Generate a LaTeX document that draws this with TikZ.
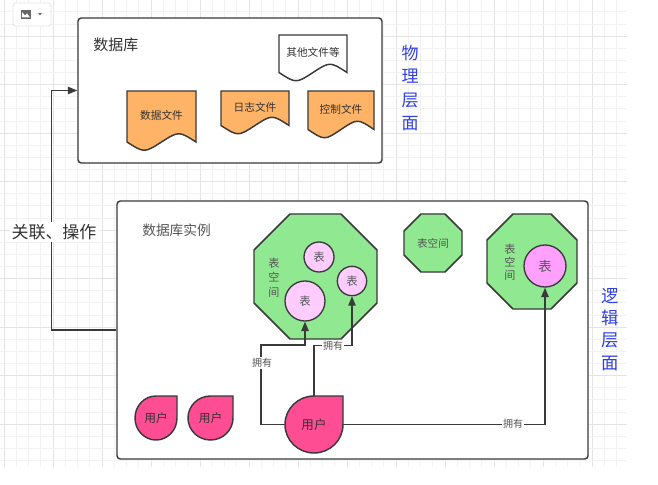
\documentclass[tikz,border=0pt]{standalone}
\usepackage{fontspec}
\setmainfont{Noto Sans CJK SC}
\usetikzlibrary{arrows.meta,calc}
\definecolor{gmin}{HTML}{F2F2F2}
\definecolor{gmaj}{HTML}{E4E4E4}
\definecolor{edge}{HTML}{3A3A3A}
\definecolor{txt}{HTML}{333333}
\definecolor{txtl}{HTML}{555555}
\definecolor{docorange}{HTML}{FFB366}
\definecolor{octgreen}{HTML}{90E890}
\definecolor{pinkl}{HTML}{FFCCFF}
\definecolor{pinkm}{HTML}{FFA0FF}
\definecolor{userpink}{HTML}{FF4D94}
\definecolor{layerblue}{HTML}{2F3FE0}
\newcommand\docshape[7]{%
  \filldraw[shapeline, fill=#7] (#2,#3) -- (#4,#3) -- (#4,#5)
    .. controls ({0.25*#2+0.75*#4},{#5-#6}) .. ({0.5*#2+0.5*#4},#5)
    .. controls ({0.75*#2+0.25*#4},{#5+#6}) .. (#2,#5) -- cycle;
  \node[doctext] (#1) at ({0.5*#2+0.5*#4},{0.5*#3+0.5*#5-1}) {};}
\newcommand\octa[5]{%
  \filldraw[shapeline, fill=octgreen]
    ({#1-#3/2+#5},{#2-#4/2}) -- ({#1+#3/2-#5},{#2-#4/2}) -- ({#1+#3/2},{#2-#4/2+#5})
    -- ({#1+#3/2},{#2+#4/2-#5}) -- ({#1+#3/2-#5},{#2+#4/2}) -- ({#1-#3/2+#5},{#2+#4/2})
    -- ({#1-#3/2},{#2+#4/2-#5}) -- ({#1-#3/2},{#2-#4/2+#5}) -- cycle;}
% drop: x0 y0 x1 y1 (ellipse with square top-right quadrant)
\newcommand\dropshape[4]{%
  \pgfmathsetmacro\xm{0.5*#1+0.5*#3}\pgfmathsetmacro\ym{0.5*#2+0.5*#4}%
  \pgfmathsetmacro\kx{0.5523*(#3-#1)/2}\pgfmathsetmacro\ky{0.5523*(#4-#2)/2}%
  \filldraw[shapeline, fill=userpink] (\xm,#2) -- (#3,#2) -- (#3,\ym)
    .. controls (#3,{\ym+\ky}) and ({\xm+\kx},#4) .. (\xm,#4)
    .. controls ({\xm-\kx},#4) and (#1,{\ym+\ky}) .. (#1,\ym)
    .. controls (#1,{\ym-\ky}) and ({\xm-\kx},#2) .. (\xm,#2) -- cycle;}
\begin{document}
\begin{tikzpicture}[x=0.75pt,y=-0.75pt,
  shapeline/.style={draw=edge, line width=1.1pt},
  box/.style={draw=edge, line width=1.1pt, rounded corners=2.5pt, fill=white, inner sep=0pt},
  conn/.style={draw=edge, line width=1.1pt, -{Triangle[length=7pt,width=5.5pt]}},
  doctext/.style={inner sep=0pt, text=txt, font=\fontsize{8}{9}\selectfont},
  tbl/.style={circle, draw=edge, line width=1pt, inner sep=0pt, text=txtl, font=\fontsize{8.5}{9}\selectfont},
  usernode/.style={inner sep=0pt, text=txt, font=\fontsize{8.8}{10}\selectfont},
  lbl/.style={fill=white, inner sep=1pt, text=txtl, font=\fontsize{7.5}{8}\selectfont},
  layer/.style={align=center, text=layerblue, inner sep=0pt},
  vtext/.style={align=center, inner sep=0pt, text=txtl}]
\useasboundingbox (0,0) rectangle (658,485);
\fill[white] (0,0) rectangle (658,485);
% canvas grid
\foreach \i in {0,...,50} {
  \pgfmathtruncatemacro\m{mod(\i,4)}
  \ifnum\m=0 \def\gc{gmaj}\else\def\gc{gmin}\fi
  \draw[\gc, line width=0.5pt] ({4+12.25*\i},0) -- ({4+12.25*\i},467);
}
\foreach \k in {1,...,38} {
  \pgfmathtruncatemacro\m{mod(\k,4)}
  \ifnum\m=3 \def\gc{gmaj}\else\def\gc{gmin}\fi
  \draw[\gc, line width=0.5pt] (0,{-0.375+12.125*\k}) -- (627,{-0.375+12.125*\k});
}
% toolbar button
\filldraw[draw=gmaj, fill=white, rounded corners=2pt, line width=0.5pt] (13,3) rectangle (51,26);
\fill[fill=black!60] (21,10) rectangle (31,19);
\fill[fill=white] (22,12) -- (25,15.5) -- (27,13.5) -- (30,17.5) -- (22,17.5) -- cycle;
\fill[fill=black!55] (38,13) -- (42,13) -- (40,15.5) -- cycle;
% physical layer box
\node[box, minimum width=228pt, minimum height=108.75pt] (db) at (230,90.5) {};
\node[anchor=west, inner sep=0pt, text=txt, font=\fontsize{11.25}{12}\selectfont] (dbt) at (93,45) {数据库};
\docshape{d4}{279}{35}{347}{72.5}{11}{white}
\node[doctext] (d4t) at (d4) {其他文件等};
\docshape{d1}{127}{91}{196}{142}{11}{docorange}
\node[doctext] (d1t) at (d1) {数据文件};
\docshape{d2}{221}{91}{289}{125.5}{11}{docorange}
\node[doctext] (d2t) at (d2) {日志文件};
\docshape{d3}{308}{91}{374}{129.5}{11}{docorange}
\node[doctext] (d3t) at (d3) {控制文件};
\node[layer, font=\fontsize{12.75}{17.4}\selectfont] (phys) at (410,88) {物\\理\\层\\面};
% logical layer box
\node[box, minimum width=353.25pt, minimum height=193.5pt] (inst) at (352.5,330) {};
\node[anchor=west, inner sep=0pt, text=txtl, font=\fontsize{10.3}{11}\selectfont] (instt) at (142,230) {数据库实例};
\node[layer, font=\fontsize{13}{16.7}\selectfont] (logic) at (610,329.5) {逻\\辑\\层\\面};
% tablespaces
\octa{315.5}{276.5}{123}{125}{36}
\node[vtext, font=\fontsize{8.3}{10.9}\selectfont] (ts1) at (274,277.5) {表\\空\\间};
\octa{433}{243}{58}{58}{17}
\node[inner sep=0pt, text=txtl, font=\fontsize{7.9}{9}\selectfont] (ts2) at (433,243) {表空间};
\octa{532}{261.5}{90}{95}{26}
\node[vtext, font=\fontsize{8.3}{9.8}\selectfont] (ts3) at (510,262) {表\\空\\间};
\node[tbl, fill=pinkl, minimum size=22.5pt] (t1) at (319,257) {表};
\node[tbl, fill=pinkl, minimum size=22pt] (t2) at (352,281) {表};
\node[tbl, fill=pinkl, minimum size=30pt] (t3) at (305,301) {表};
\node[tbl, fill=pinkm, minimum size=31.5pt, font=\fontsize{10}{11}\selectfont] (t4) at (545,266) {表};
% users
\dropshape{135}{396}{177}{440}
\node[usernode] (u1) at (156,418) {用户};
\dropshape{188}{396}{233}{440}
\node[usernode] (u2) at (210.5,418) {用户};
\dropshape{285}{396}{343}{453}
\node[usernode, minimum width=43.5pt, minimum height=42.75pt, font=\fontsize{9.4}{10}\selectfont] (u3) at (314,424.5) {用户};
% connectors
\draw[conn] (u3.west) -| (261,345) -| (t3.south);
\draw[conn] (u3.north) -- ++(0,-50) -| (t2.south);
\draw[conn] (u3.east) -| (t4.south);
\node[lbl] (l1) at (262,363) {拥有};
\node[lbl] (l2) at (333,346) {拥有};
\node[lbl] (l3) at (513,424) {拥有};
\draw[conn] (inst.west) -- ++(-65,0) |- (db.west);
\node[fill=white, inner sep=1.5pt, text=txt, font=\fontsize{12.75}{14}\selectfont] (rel) at (54,232) {关联、操作};
\end{tikzpicture}
\end{document}
